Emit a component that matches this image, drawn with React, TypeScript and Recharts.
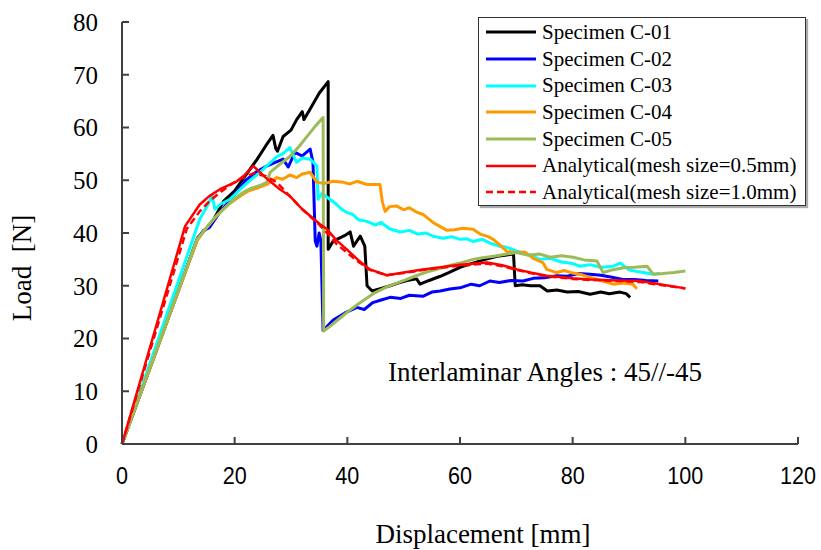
import { LineChart, Line, XAxis, YAxis, Customized } from 'recharts';

type Pt = { x: number; y: number };
const toPts = (arr: number[][]): Pt[] => arr.map(([x, y]) => ({ x, y }));

const xTicks = [0, 20, 40, 60, 80, 100, 120];
const yTicks = [0, 10, 20, 30, 40, 50, 60, 70, 80];

const c01 = [
  [0, 0], [13.5, 39.2], [16, 42], [18, 46], [20, 48], [22, 51], [24, 54], [25.5, 56.5], [26.8, 58.5],
  [27.3, 56], [27.6, 55.5], [28.6, 58.3], [30, 59.5], [31, 61.5], [32, 63], [32.3, 61.5], [33.4, 63.5],
  [35, 66.5], [36.6, 68.7], [36.6, 36.9], [37.5, 38.5], [38.5, 39], [39.5, 39.5], [40.5, 40.2],
  [41.1, 37.5], [42.3, 39.4], [43.1, 37.5], [43.5, 30], [44.4, 29], [46, 29.5], [47.6, 30], [49, 30.5],
  [50.6, 31], [52.3, 31.3], [52.9, 30.3], [54.5, 31], [56.5, 31.8], [58, 32.5], [60, 33.5], [62.3, 34.3],
  [64.5, 35], [66.6, 35.6], [68, 35.8], [69.5, 36], [69.8, 30], [71, 30.2], [72.5, 30], [74.2, 30],
  [75.5, 29], [77.2, 29.2], [79, 28.8], [81, 28.9], [83.1, 28.4], [85, 28.8], [86.5, 28.5], [88.4, 28.8],
  [89.5, 28.5], [90.2, 27.8],
];

const c02 = [
  [0, 0], [13.3, 38.8], [14.5, 40.5], [15.5, 41], [17.4, 44], [19, 46], [20.5, 48], [22, 50], [24, 51.7],
  [25.7, 52.7], [27, 53.3], [28.6, 54], [29.5, 52.5], [30.7, 55.3], [32, 54.6], [33.4, 55.9], [33.9, 53.4],
  [34.3, 38.5], [34.6, 37.5], [35, 40], [35.3, 38.5], [35.7, 21.5], [37.5, 23.5], [39.5, 24.8], [41.7, 25.9],
  [43, 25.5], [44.5, 26.8], [46, 27.3], [47.6, 27.8], [49.5, 27.6], [51, 28.2], [53.4, 28], [55, 28.8],
  [56.5, 29], [58.2, 29.4], [60, 29.6], [62, 30.3], [63.5, 30], [65.3, 30.9], [67, 30.6], [69, 31],
  [71.2, 30.9], [73, 31.4], [75, 31.5], [77.2, 31.9], [79, 31.8], [81, 32.3], [83.1, 32.2], [85, 32],
  [87, 31.6], [88.9, 31.2], [91, 31.2], [93, 31], [95.2, 30.9],
];

const c03 = [
  [0, 0], [13.8, 42.6], [14.8, 44.5], [16, 47], [16.5, 44.5], [17.5, 45.5], [19.2, 46.4], [21, 48.3],
  [22.5, 49.8], [24.5, 51.5], [26, 53], [27.5, 54.5], [28.5, 55], [29.8, 56.2], [31, 53.4], [32, 54.2],
  [33.4, 54], [34.6, 52.7], [34.8, 46.4], [35.5, 47.5], [36.9, 46.4], [38, 45.5], [39, 44.5], [39.9, 43.9],
  [41, 43.5], [42, 42.5], [43.5, 42.2], [45, 41.5], [46, 42], [47.5, 40.8], [49.4, 40.2], [51, 40.5],
  [52.5, 39.8], [54, 40], [55.2, 39.4], [57, 39], [58.5, 39.3], [60, 38.8], [61.2, 38.9], [62.3, 38.4],
  [64, 38.8], [65.5, 38], [67, 37.5], [68.3, 37.3], [70, 36.6], [72, 36], [74.2, 35], [76, 35.2],
  [78, 34.5], [80, 34.2], [81.3, 33.7], [83, 34], [85, 33.5], [87.2, 33.7], [88.5, 34.3], [90, 33],
  [92, 32.6], [94.3, 32.2], [95.5, 32.3],
];

const c04 = [
  [0, 0], [13.3, 38.5], [15, 41], [17, 43.5], [19, 45.5], [21, 47], [22.5, 48], [24, 48.5], [25.7, 49.2],
  [26.5, 49.8], [27.5, 50.5], [28.5, 50.2], [29.8, 51], [31, 50.5], [32, 51.2], [33.4, 51.5], [34.6, 49.6],
  [36, 49.4], [37.5, 49.8], [39.3, 49.6], [40.5, 49.3], [41.7, 49.8], [43.5, 49.2], [45.8, 49.2],
  [46.2, 46], [46.7, 44.1], [47.5, 45], [48.8, 45.1], [50, 44.4], [51, 44.8], [52.4, 43.9], [53.5, 43.5],
  [55.2, 42], [56.5, 41.2], [57.7, 40.5], [59, 40.6], [60.5, 40.9], [62.3, 40.7], [63.6, 39.8], [65, 39.3],
  [65.9, 38.8], [67, 37.8], [68.3, 36.5], [70.1, 36.3], [71.5, 36.4], [73, 35.2], [74.7, 34.4], [75.4, 33.1],
  [77.2, 32.5], [78.5, 32.9], [80, 32.4], [81.3, 32.2], [83, 31.6], [85, 31], [87.2, 30.3], [89, 30.5],
  [90.7, 30.3], [91.4, 29.4],
];

const c05 = [
  [0, 0], [13.3, 38.8], [15, 41], [16.2, 42.6], [18, 44.5], [20, 46.5], [21.5, 47.7], [23, 48.5],
  [24.5, 49], [25.7, 49.6], [26.3, 51.5], [28, 53], [29.8, 54.5], [31.5, 56.5], [33, 58.5], [34.5, 60.5],
  [35.7, 61.9], [35.8, 21.4], [36.9, 22.3], [38.5, 23.7], [40, 25], [42, 26.6], [44.6, 28.5], [47, 29.8],
  [49.5, 30.8], [52, 31.8], [54, 32.6], [55.9, 33.1], [58, 33.8], [60, 34.3], [62.3, 35], [64, 35.3],
  [66, 35.6], [68.3, 36], [70, 36.3], [72, 35.8], [74.2, 36], [76, 35.4], [78, 35.7], [80.1, 35.4],
  [82, 34.9], [84.3, 34.7], [85.4, 32.5], [87, 33], [89, 33.4], [91, 33.5], [93.2, 33.7], [94.3, 32.2],
  [96, 32.3], [98, 32.5], [100, 32.8],
];

const mesh05 = [
  [0, 0], [11.2, 41.3], [13.8, 45.4], [15.5, 47], [17.4, 48.3], [20.4, 49.8], [21.8, 51], [23.3, 52.7],
  [25.5, 50.5], [28, 48.3], [29.8, 47], [32, 44.5], [35.1, 41.7], [36.4, 40.7], [38, 38.7], [39.9, 36.9],
  [42, 34.8], [44, 33.1], [47, 32], [50, 32.5], [53.4, 33.1], [56.5, 33.5], [60, 34], [64.8, 34.4],
  [67.5, 33.9], [70.1, 33.1], [72.5, 32.5], [75.4, 31.9], [80, 31.4], [83.1, 31.2], [88, 31], [92, 30.9],
  [96, 30.2], [100, 29.5],
];

const mesh10 = [
  [0, 0], [11.5, 40.8], [13.8, 44.1], [15.5, 46], [17.5, 47.8], [19.5, 49.3], [21, 50.2], [23.3, 51.3],
  [25.5, 50.8], [27.5, 49.6], [29.5, 47.3], [32, 44.5], [35.1, 41.5], [36.4, 40], [38, 38], [39.9, 36.3],
  [42, 34.5], [44, 33], [47, 32], [50, 32.4], [53.4, 33], [56.5, 33.4], [60, 33.8], [64.8, 34.2],
  [67.5, 33.7], [70.1, 33], [72.5, 32.4], [75.4, 31.8], [80, 31.3], [83.1, 31.1], [88, 30.9], [92, 30.7],
  [96, 30.1], [100, 29.5],
];

const series = [
  { name: 'Specimen C-01', data: c01, color: '#000000', width: 3, dash: undefined },
  { name: 'Specimen C-02', data: c02, color: '#0000ff', width: 3, dash: undefined },
  { name: 'Specimen C-03', data: c03, color: '#00ffff', width: 3, dash: undefined },
  { name: 'Specimen C-04', data: c04, color: '#ff9900', width: 3, dash: undefined },
  { name: 'Specimen C-05', data: c05, color: '#9bbb59', width: 3, dash: undefined },
  { name: 'Analytical(mesh size=0.5mm)', data: mesh05, color: '#ff0000', width: 2.5, dash: undefined },
  { name: 'Analytical(mesh size=1.0mm)', data: mesh10, color: '#ff0000', width: 2.5, dash: '7 4' },
];

const serif = '"Liberation Serif", "Times New Roman", serif';
const sans = '"Liberation Sans", Arial, sans-serif';

// condensed sans digits on the x axis, like the original gothic font
function XTick(props: any) {
  const { x, y, payload } = props;
  return (
    <text
      transform={`translate(${x}, ${y}) scale(0.92, 1)`}
      textAnchor="middle"
      dy="0.71em"
      fontFamily={sans}
      fontSize={23.5}
      fill="#000"
    >
      {payload.value}
    </text>
  );
}

function Texts() {
  return (
    <g>
      <text x={483} y={543} textAnchor="middle" fontFamily={serif} fontSize={27} fill="#000">
        Displacement [mm]
      </text>
      <text
        x={31}
        y={268}
        textAnchor="middle"
        fontFamily={serif}
        fontSize={27}
        fill="#000"
        transform="rotate(-90, 31, 268)"
        style={{ whiteSpace: 'pre' }}
      >
        {'Load  [N]'}
      </text>
      <text x={545} y={381} textAnchor="middle" fontFamily={serif} fontSize={27} fill="#000">
        Interlaminar Angles : 45//-45
      </text>
    </g>
  );
}

export default function App() {
  return (
    <div style={{ position: 'absolute', left: 0, top: 0, width: 821, height: 550, background: '#fff' }}>
      <LineChart width={821} height={550} margin={{ top: 22, right: 23, bottom: 0, left: 0 }}>
        <XAxis
          dataKey="x"
          type="number"
          domain={[0, 120]}
          ticks={xTicks}
          height={106}
          tickSize={-7}
          tickMargin={30}
          stroke="#404040"
          strokeWidth={2}
          tick={<XTick />}
        />
        <XAxis
          xAxisId="top"
          orientation="top"
          dataKey="x"
          type="number"
          domain={[0, 120]}
          height={0}
          tick={false}
          tickLine={false}
          stroke="#888"
          strokeWidth={2}
        />
        <YAxis
          type="number"
          domain={[0, 80]}
          ticks={yTicks}
          width={122}
          tickSize={-7}
          tickMargin={31}
          stroke="#404040"
          strokeWidth={2}
          tick={{ fill: '#000', fontSize: 25, fontFamily: serif }}
        />
        <YAxis
          yAxisId="right"
          orientation="right"
          type="number"
          domain={[0, 80]}
          width={0}
          tick={false}
          tickLine={false}
          stroke="#888"
          strokeWidth={2}
        />
        {series.map((s) => (
          <Line
            key={s.name}
            data={toPts(s.data)}
            dataKey="y"
            name={s.name}
            type="linear"
            stroke={s.color}
            strokeWidth={s.width}
            strokeDasharray={s.dash}
            strokeLinejoin="round"
            dot={false}
            activeDot={false}
            isAnimationActive={false}
          />
        ))}
        <Customized component={<Texts />} />
      </LineChart>
      <div
        style={{
          position: 'absolute',
          left: 478,
          top: 17,
          width: 328,
          height: 189,
          boxSizing: 'border-box',
          border: '1px solid #333',
          background: '#fff',
          boxShadow: '2px 2px 1px #aaa',
          paddingTop: 1,
        }}
      >
        {series.map((s) => (
          <div key={s.name} style={{ display: 'flex', alignItems: 'center', height: 26.7 }}>
            <svg width={52} height={10} style={{ marginLeft: 6, marginRight: 5 }}>
              <line x1={1} y1={5} x2={51} y2={5} stroke={s.color} strokeWidth={s.width} strokeDasharray={s.dash} />
            </svg>
            <span style={{ fontFamily: serif, fontSize: 21, color: '#000', lineHeight: '21px', whiteSpace: 'nowrap' }}>
              {s.name}
            </span>
          </div>
        ))}
      </div>
    </div>
  );
}
